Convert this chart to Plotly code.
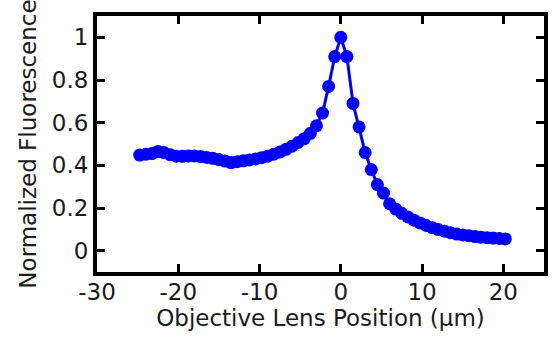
import plotly.graph_objects as go

x_pos = [-24.75 + 0.75 * i for i in range(61)]
x_pos = [round(v, 2) for v in x_pos]
fluor = [
    0.448, 0.452, 0.455, 0.465, 0.460, 0.450, 0.443, 0.442, 0.444, 0.444,
    0.441, 0.437, 0.433, 0.427, 0.420, 0.413, 0.417, 0.421, 0.425, 0.430,
    0.436, 0.443, 0.452, 0.462, 0.475, 0.490, 0.507, 0.525, 0.550, 0.585,
    0.645, 0.770, 0.910, 1.000, 0.910, 0.690, 0.580, 0.460, 0.380, 0.310,
    0.270, 0.220, 0.195, 0.175, 0.158, 0.143, 0.130, 0.118, 0.108, 0.099,
    0.091, 0.084, 0.078, 0.074, 0.070, 0.066, 0.063, 0.061, 0.059, 0.057,
    0.055,
]
x_ticks = [-30, -20, -10, 0, 10, 20]
x_tick_text = ["-30", "-20", "-10", "0", "10", "20"]
y_ticks = [0, 0.2, 0.4, 0.6, 0.8, 1]
y_tick_text = ["0", "0.2", "0.4", "0.6", "0.8", "1"]

fig = go.Figure()
fig.add_trace(go.Scatter(
    x=x_pos, y=fluor, mode="lines+markers",
    line=dict(color="#0000FF", width=3),
    marker=dict(color="#0000FF", size=13),
    showlegend=False,
))

font = dict(family="DejaVu Sans", size=23, color="#1a1a1a")
axis_common = dict(
    showline=True, linecolor="black", linewidth=4, mirror="allticks",
    ticks="inside", ticklen=8, tickwidth=3, tickcolor="black",
    showgrid=False, zeroline=False, tickfont=font,
)
fig.update_layout(
    width=552, height=339,
    margin=dict(l=97, r=4, t=16, b=67),
    paper_bgcolor="white", plot_bgcolor="white",
    font=font,
    xaxis=dict(range=[-30, 25], tickvals=x_ticks, ticktext=x_tick_text,
               ticklabelstandoff=-4,
               title=dict(text="Objective Lens Position (µm)", font=font, standoff=0),
               **axis_common),
    yaxis=dict(range=[-0.1, 1.1], tickvals=y_ticks, ticktext=y_tick_text,
               title=dict(text="Normalized Fluorescence", font=font, standoff=10),
               **axis_common),
)
fig.write_html("out.html")
